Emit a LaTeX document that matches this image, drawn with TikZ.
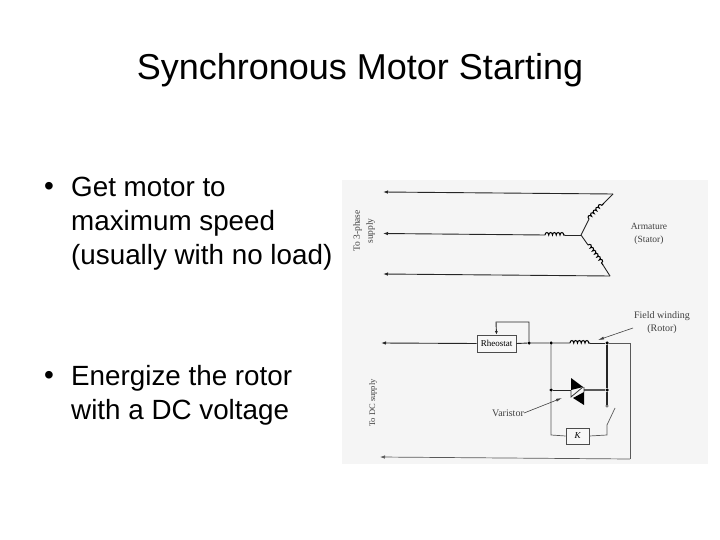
\documentclass[tikz,border=0pt]{standalone}
\usepackage{fontspec}
\setmainfont{Liberation Sans}
\newfontfamily\scanfont{Liberation Serif}
\usetikzlibrary{arrows.meta,decorations.pathmorphing}
\tikzset{
  x=1pt,y=-1pt,
  title/.style={font=\fontsize{36}{40}\selectfont,text=black,inner sep=0pt},
  bullet/.style={font=\fontsize{27.8}{34}\selectfont,text=black,inner sep=0pt,align=left,anchor=north west},
  dotmark/.style={font=\fontsize{28}{32}\selectfont,text=black,inner sep=0pt,anchor=center},
  small/.style={font=\scanfont\fontsize{9.5}{13}\selectfont,text=black!75,inner sep=0pt,align=center},
  wire/.style={line width=0.9pt,draw=black!85},
  thin wire/.style={line width=0.7pt,draw=black!65},
  tip wire/.style={wire,-{Latex[length=5pt,width=3.5pt]}},
  lead/.style={line width=0.6pt,draw=black!75,-{Latex[length=6pt,width=3pt]}},
  coil/.style={line width=1pt,draw=black,decorate,decoration={bumps,segment length=7.5pt,amplitude=2.5pt}},
  junction/.style={circle,fill=black,inner sep=0pt,minimum size=3.5pt},
  boxed/.style={draw=black!70,line width=0.7pt,fill=black!3,inner sep=0pt},
}
\begin{document}
\begin{tikzpicture}
\useasboundingbox (0,0) rectangle (720,540);
\fill[white] (0,0) rectangle (720,540);
\fill[black!4] (342,180) rectangle (708,464);
\node[title] (heading) at (360,70) {Synchronous Motor Starting};
\node[dotmark] (b1) at (49,189) {•};
\node[bullet] (t1) at (71,176.5) {Get motor to\\maximum speed\\(usually with no load)};
\node[dotmark] (b2) at (49,378) {•};
\node[bullet] (t2) at (71,365.5) {Energize the rotor\\with a DC voltage};
% three-phase armature
\coordinate (a1) at (383,192);
\coordinate (a2) at (383,233.5);
\coordinate (a3) at (383,274);
\coordinate (ta) at (613,194);
\coordinate (ca) at (581,235);
\coordinate (ba) at (610,276);
\coordinate (m1) at (545,235);
\coordinate (m2) at (565,235);
\coordinate (u1) at (589,219);
\coordinate (u2) at (604,203);
\coordinate (l1) at (588,245);
\coordinate (l2) at (603,265);
\draw[tip wire] (ta) -- (a1);
\draw[tip wire] (ba) -- (a3);
\draw[tip wire] (m1) -- (a2);
\draw[coil] (m1) -- (m2);
\draw[wire] (m2) -- (ca);
\draw[wire] (ca) -- (u1);
\draw[coil] (u1) -- (u2);
\draw[wire] (u2) -- (ta);
\draw[wire] (ca) -- (l1);
\draw[coil] (l1) -- (l2);
\draw[wire] (l2) -- (ba);
\node[small,rotate=90] (supply3) at (364,231) {To 3-phase\\supply};
\node[small] (arm) at (649,234) {Armature\\(Stator)};
% dc field circuit
\node[boxed,minimum width=39pt,minimum height=17pt,font=\scanfont\fontsize{9}{10}\selectfont] (rheo) at (496.5,343.5) {Rheostat};
\coordinate (dc1) at (381,343);
\coordinate (dc2) at (380,457);
\node[junction] (j1) at (529,343) {};
\node[junction] (j2) at (551,343) {};
\node[junction] (j3) at (607,343) {};
\node[junction] (j4) at (551,390) {};
\node[junction] (j5) at (607,390) {};
\coordinate (f1) at (570,343);
\coordinate (f2) at (590,343);
\coordinate (corner1) at (630,343);
\coordinate (corner2) at (630,459);
\coordinate (loop1) at (529,322);
\coordinate (loop2) at (496,322);
\node[draw=black!70,fill=white,circle,inner sep=0pt,minimum size=2.5pt] (contact) at (607,406) {};
\coordinate (sw1) at (607,425);
\coordinate (sw2) at (615,408);
\coordinate (sw3) at (607,435);
\coordinate (cl) at (551,435);
\node[boxed,minimum width=23pt,minimum height=16pt,font=\scanfont\itshape\fontsize{9}{10}\selectfont] (res) at (577.5,436) {K};
\draw[tip wire] (rheo.west) -- (dc1);
\draw[wire] (rheo.east) -- (j1) -- (j2) -- (f1);
\draw[wire,{Latex[length=3.5pt,width=3pt]}-] (rheo.north) -- (loop2) -- (loop1) -- (j1);
\draw[coil] (f1) -- (f2);
\draw[wire] (f2) -- (j3);
\draw[thin wire] (j3) -- (corner1) -- (corner2);
\draw[thin wire,-{Latex[length=5pt,width=3.5pt]}] (corner2) -- (dc2);
\draw[wire,line width=1.1pt] (j3) -- (j5) -- (contact);
\draw[thin wire] (j2) -- (j4) -- (cl) -- (res.west);
\draw[thin wire] (res.east) -- (sw3) -- (sw1) -- (sw2);
% varistor
\node[inner sep=0pt,minimum size=0pt] (vw) at (571.5,390) {};
\node[inner sep=0pt,minimum size=0pt] (ve) at (584,390) {};
\draw[wire] (j4) -- (vw);
\draw[line width=1.1pt,draw=black!65] (ve) -- (j5);
\fill[black] (571,378) -- (583,387) -- (571,390) -- cycle;
\fill[black] (584,392) -- (573,398) -- (584,405) -- cycle;
\draw[line width=0.8pt,draw=black!80] (571,390) -- (571,397) -- (583,387) (584,387) -- (584,392);
\node[small,font=\scanfont\fontsize{10}{13}\selectfont] (fw) at (662,322.5) {Field winding\\(Rotor)};
\node[small,font=\scanfont\fontsize{10}{12}\selectfont] (var) at (508,413) {Varistor};
\coordinate (fwstart) at (633,328);
\draw[lead] (var.east) -- (562,398);
\draw[lead] (fwstart) -- (598,340);
\node[small,font=\scanfont\fontsize{8.5}{12}\selectfont,rotate=90] (supplydc) at (373,403) {To DC supply};
\end{tikzpicture}
\end{document}
